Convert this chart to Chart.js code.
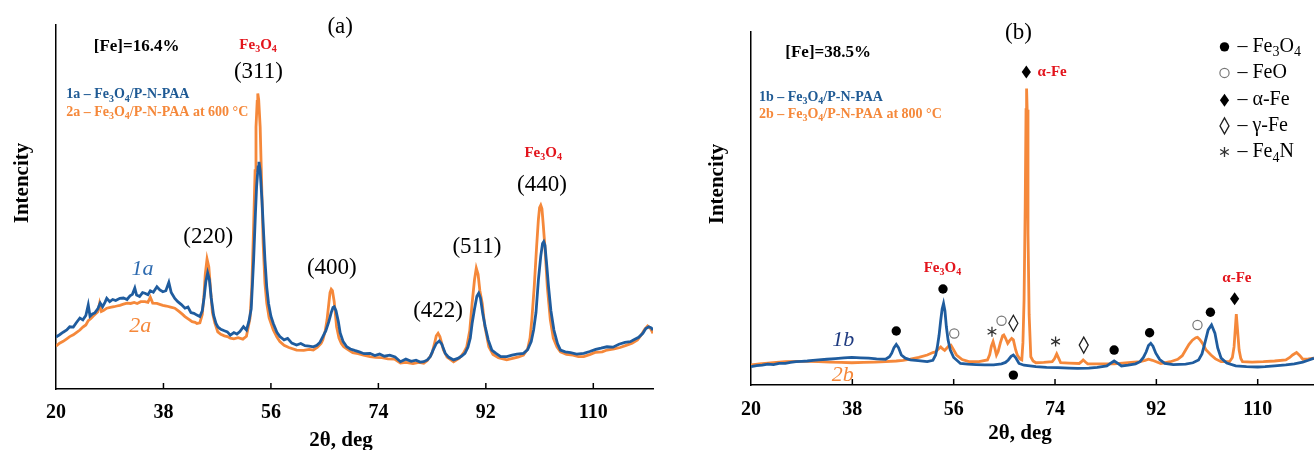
<!DOCTYPE html>
<html>
<head>
<meta charset="utf-8">
<script src="https://cdn.jsdelivr.net/npm/chart.js@4.4.1/dist/chart.umd.min.js"></script>
<style>
  html, body { margin: 0; padding: 0; background: #fff; }
  #wrap { position: relative; width: 1314px; height: 450px; overflow: hidden; }
  canvas { position: absolute; top: 0; }
  #chartA { left: 0; }
  #chartB { left: 660px; }
</style>
</head>
<body>
<div id="wrap">
  <canvas id="chartA" width="660" height="450"></canvas>
  <canvas id="chartB" width="654" height="450"></canvas>
</div>
<script>
// XRD patterns, two panels. x = 2θ (deg), y = intensity in arbitrary units (0–100 of the axis height).

const TICKS = [20, 38, 56, 74, 92, 110];

// (a) [Fe]=16.4%
const pattern1a = [
  [20.0,14.3],[20.6,14.9],[21.2,15.6],[21.8,16.2],[22.3,17.1],[22.9,17.0],[23.4,18.2],[24.0,19.5],[24.5,19.0],
  [25.0,20.2],[25.4,23.1],[25.7,20.0],[26.1,20.6],[26.5,20.9],[27.0,22.0],[27.4,23.6],[27.8,22.6],[28.2,23.8],
  [28.5,24.9],[29.0,24.0],[29.5,24.6],[30.0,24.3],[30.7,24.9],[31.3,25.0],[31.9,24.6],[32.4,25.6],[32.8,26.0],
  [33.2,27.7],[33.5,25.8],[34.0,25.4],[34.5,26.5],[34.9,26.3],[35.4,25.9],[35.8,27.0],[36.3,26.6],[36.9,28.1],
  [37.4,27.2],[37.9,26.7],[38.4,27.0],[38.9,29.3],[39.3,26.5],[39.9,24.9],[40.4,24.0],[41.0,23.2],[41.6,22.2],
  [42.1,22.5],[42.6,21.0],[43.1,20.8],[43.6,20.3],[44.1,19.9],[44.5,21.5],[44.8,25.0],[45.1,29.5],[45.4,31.9],
  [45.7,30.0],[46.0,25.0],[46.4,20.3],[46.8,18.0],[47.1,17.1],[47.6,16.4],[48.2,16.0],[48.7,15.7],[49.2,14.8],
  [49.8,15.5],[50.3,15.1],[50.8,15.8],[51.4,17.1],[51.9,16.2],[52.3,18.5],[52.7,22.0],[53.1,35.4],[53.4,48.0],
  [53.6,55.6],[53.85,61.0],[54.0,62.4],[54.2,60.0],[54.5,51.9],[54.8,42.0],[55.0,35.4],[55.3,28.0],[55.6,23.5],
  [56.0,20.0],[56.4,18.0],[57.0,15.6],[57.5,14.4],[58.2,13.5],[58.8,13.9],[59.5,12.6],[60.3,12.1],[61.0,12.5],
  [61.7,11.9],[62.4,11.8],[63.1,11.6],[63.7,12.0],[64.2,12.8],[64.7,14.4],[65.2,16.0],[65.7,18.5],[66.1,21.0],
  [66.4,22.4],[66.6,22.6],[66.9,21.5],[67.3,18.5],[67.6,15.4],[68.1,13.0],[68.7,11.6],[69.3,11.0],[70.0,10.6],
  [70.8,10.2],[71.6,9.7],[72.6,9.8],[73.4,9.2],[74.2,9.6],[75.0,9.0],[75.9,9.3],[76.8,8.8],[77.7,7.5],
  [78.6,8.2],[79.5,7.6],[80.3,7.9],[81.0,7.4],[81.6,7.5],[82.2,8.0],[82.7,8.9],[83.2,10.8],[83.7,12.5],
  [84.2,13.2],[84.6,12.4],[85.2,9.8],[85.8,8.7],[86.6,8.0],[87.3,8.4],[87.9,9.0],[88.5,9.8],[89.0,11.5],
  [89.4,14.0],[89.7,18.0],[90.1,22.0],[90.5,25.5],[90.8,26.3],[91.1,25.0],[91.5,20.5],[91.9,17.1],[92.4,13.5],
  [93.0,10.7],[93.7,9.8],[94.5,8.9],[95.5,8.9],[96.4,9.3],[97.2,9.6],[98.3,9.8],[99.0,10.8],[99.6,13.0],
  [100.0,16.2],[100.4,21.0],[100.8,29.9],[101.2,36.5],[101.5,40.0],[101.7,40.5],[101.9,39.5],[102.2,34.0],
  [102.5,28.1],[102.9,21.5],[103.4,16.2],[104.0,12.5],[104.5,10.7],[105.3,10.2],[106.2,10.0],[107.2,9.6],
  [108.4,9.8],[109.4,10.3],[110.4,10.9],[111.3,11.2],[112.3,11.6],[113.3,11.5],[114.3,12.3],[115.3,12.8],
  [116.2,13.0],[116.8,13.5],[117.6,14.2],[118.3,15.3],[118.8,16.6],[119.3,17.1],[119.7,16.8],[120.0,16.2]
];

const pattern2a = [
  [20.0,11.8],[20.6,12.6],[21.2,13.1],[21.8,13.8],[22.3,14.4],[22.9,14.9],[23.4,15.5],[24.0,16.2],[24.5,17.0],
  [25.0,17.6],[25.4,18.8],[25.8,19.3],[26.2,20.0],[26.6,20.6],[27.0,21.2],[27.3,23.5],[27.6,21.3],[28.0,21.6],
  [28.5,22.2],[29.1,22.4],[29.7,22.6],[30.2,22.8],[30.7,23.0],[31.3,23.3],[31.9,23.6],[32.5,23.5],[33.1,23.8],
  [33.6,23.5],[34.2,24.0],[34.9,24.0],[35.4,23.8],[35.8,25.2],[36.2,23.6],[36.9,23.5],[37.5,23.2],[37.9,23.0],
  [38.5,22.8],[39.2,22.5],[39.9,22.2],[40.6,21.3],[41.2,20.5],[41.6,19.9],[42.2,19.2],[42.8,18.5],[43.3,18.3],
  [43.6,18.0],[44.1,18.2],[44.5,20.5],[44.8,26.0],[45.0,31.5],[45.3,35.7],[45.6,33.5],[45.9,27.0],[46.2,21.0],
  [46.6,18.2],[47.1,15.7],[47.6,15.0],[48.2,14.6],[48.7,14.4],[49.2,14.0],[49.8,13.8],[50.5,14.1],[51.3,13.7],
  [51.9,14.5],[52.5,19.5],[52.8,28.0],[53.1,44.6],[53.35,60.0],[53.5,72.0],[53.7,79.0],[53.8,81.2],[53.95,79.5],
  [54.2,72.0],[54.45,56.0],[54.7,40.0],[55.0,29.0],[55.3,23.6],[55.7,19.5],[56.4,16.2],[57.0,14.3],[57.5,13.0],
  [58.2,12.0],[59.0,11.4],[60.3,10.7],[61.5,10.6],[62.4,10.9],[63.1,10.7],[63.8,11.5],[64.4,12.5],[64.7,13.5],
  [65.1,16.0],[65.4,19.0],[65.7,23.5],[65.9,26.5],[66.1,27.4],[66.3,27.0],[66.6,24.0],[67.0,17.1],[67.4,14.0],
  [67.8,12.5],[68.2,11.6],[68.9,10.8],[69.7,10.0],[70.6,9.7],[71.5,9.3],[72.6,8.9],[73.6,8.7],[74.6,8.6],
  [75.6,8.3],[76.7,8.2],[77.7,7.1],[78.6,7.3],[79.8,7.0],[80.8,7.3],[81.6,7.1],[82.2,7.8],[82.7,9.0],
  [83.0,9.9],[83.4,12.5],[83.7,14.6],[84.0,15.3],[84.3,14.4],[84.6,12.6],[84.9,10.7],[85.5,8.8],[86.6,7.5],
  [87.6,8.5],[88.3,10.0],[88.8,11.6],[89.3,16.0],[89.7,23.5],[90.1,30.0],[90.4,33.2],[90.7,31.5],[91.0,27.0],
  [91.4,23.5],[91.8,17.5],[92.5,11.6],[93.2,9.5],[94.1,8.6],[95.5,8.0],[96.5,8.4],[97.5,8.8],[98.3,9.3],
  [99.0,11.0],[99.4,14.0],[99.7,19.0],[100.1,28.0],[100.5,39.0],[100.8,46.5],[101.0,49.8],[101.2,50.5],
  [101.4,49.5],[101.6,45.5],[101.9,39.0],[102.3,28.0],[102.8,19.0],[103.3,14.0],[103.9,11.6],[104.5,10.2],
  [105.5,9.5],[106.6,9.3],[107.5,8.9],[108.4,8.9],[109.5,9.5],[110.4,10.1],[111.5,10.2],[112.3,10.7],
  [113.5,11.0],[114.5,11.4],[115.5,12.0],[116.5,12.6],[117.4,13.5],[118.0,14.8],[118.6,16.4],[119.1,17.3],
  [119.6,16.6],[120.0,15.3]
];

// (b) [Fe]=38.5%
const pattern1b = [
  [20.0,5.2],[21.0,5.5],[22.0,5.6],[23.0,5.9],[24.0,5.8],[25.0,6.1],[26.1,6.1],[27.0,6.4],[28.0,6.6],[29.0,6.7],
  [30.0,6.8],[31.0,7.0],[32.0,7.1],[33.5,7.3],[35.0,7.5],[36.5,7.7],[37.9,7.8],[39.5,7.7],[40.9,7.6],[42.3,7.4],
  [43.9,7.3],[44.6,8.0],[45.0,9.0],[45.4,10.6],[45.8,11.5],[46.2,10.6],[46.7,8.5],[47.4,7.6],[48.3,7.1],
  [49.7,6.9],[51.3,6.6],[52.3,7.0],[52.8,8.5],[53.1,10.8],[53.4,14.0],[53.7,18.4],[53.95,21.5],[54.2,23.1],
  [54.45,21.0],[54.7,16.5],[55.0,12.8],[55.4,9.9],[56.0,7.8],[57.2,6.1],[58.5,5.9],[60.0,5.8],[61.5,5.7],
  [63.1,5.7],[64.5,6.0],[65.2,6.4],[65.7,7.1],[66.2,8.1],[66.6,8.5],[67.0,7.8],[67.6,6.1],[68.5,5.6],
  [70.6,5.2],[72.5,5.0],[74.5,4.9],[76.5,4.8],[78.0,4.7],[80.0,4.8],[81.5,5.0],[83.2,5.4],[83.9,6.2],
  [84.5,6.8],[85.1,6.2],[85.8,5.4],[87.0,5.6],[88.3,6.0],[89.1,6.6],[89.7,7.8],[90.2,9.4],[90.6,11.2],
  [91.0,11.8],[91.4,11.0],[91.9,9.0],[92.6,7.2],[93.5,6.1],[95.0,5.8],[97.2,5.9],[98.5,6.3],[99.5,7.1],
  [100.1,8.8],[100.6,11.8],[101.2,15.6],[101.8,17.0],[102.4,14.7],[102.9,10.5],[103.5,7.6],[104.5,6.2],
  [106.1,5.4],[108.0,5.2],[110.0,5.1],[111.3,5.2],[113.0,5.4],[115.0,5.7],[116.5,6.0],[118.0,6.5],
  [119.0,7.0],[120.0,7.6]
];

const pattern2b = [
  [20.0,5.7],[21.5,6.0],[23.0,6.2],[24.5,6.4],[26.1,6.6],[28.0,6.7],[30.0,6.7],[32.0,6.6],[34.0,6.5],[36.0,6.4],
  [37.9,6.3],[40.0,6.4],[42.0,6.5],[43.9,6.6],[45.8,6.8],[47.0,7.0],[48.3,7.3],[49.8,7.8],[51.3,8.5],[52.3,9.2],
  [52.8,9.4],[53.3,10.2],[53.7,10.8],[54.0,10.3],[54.4,9.8],[54.8,10.5],[55.2,11.2],[55.5,11.3],[55.9,10.2],
  [56.5,8.5],[57.5,7.2],[58.7,6.6],[60.5,6.6],[62.0,7.1],[62.4,8.6],[62.7,11.0],[63.0,12.3],[63.3,10.5],
  [63.6,8.5],[63.9,9.5],[64.3,12.0],[64.7,14.0],[64.9,14.2],[65.2,13.3],[65.6,11.8],[65.9,12.5],[66.3,13.2],
  [66.6,12.8],[67.0,10.0],[67.3,8.5],[67.8,7.3],[68.1,7.1],[68.3,12.0],[68.5,24.0],[68.7,50.0],[68.85,78.0],
  [68.95,84.0],[69.05,78.0],[69.2,43.0],[69.4,20.0],[69.7,8.0],[70.1,6.8],[70.6,6.3],[72.0,6.4],[73.5,6.6],
  [73.9,7.4],[74.3,8.8],[74.7,7.4],[75.0,6.3],[76.5,6.2],[78.3,6.1],[78.7,6.6],[79.0,7.1],[79.4,6.5],
  [79.8,6.0],[81.5,6.0],[83.0,6.0],[84.5,6.0],[86.0,6.2],[87.5,6.4],[89.1,6.6],[90.0,7.0],[90.6,7.3],
  [91.3,7.0],[92.8,6.1],[94.5,6.6],[95.8,7.3],[96.6,8.3],[97.2,9.9],[97.8,11.5],[98.4,12.7],[99.0,13.4],
  [99.3,13.5],[99.7,12.9],[100.2,11.8],[100.8,10.0],[101.7,8.5],[102.5,7.4],[103.5,6.6],[105.0,6.6],
  [105.5,7.8],[105.8,10.8],[106.0,15.5],[106.2,20.1],[106.4,16.0],[106.7,9.9],[107.0,7.5],[107.3,6.6],
  [109.0,6.5],[111.0,6.6],[113.0,6.8],[115.0,7.1],[115.7,7.8],[116.2,8.5],[116.9,9.2],[117.5,8.3],
  [118.0,7.3],[119.0,7.4],[120.0,7.6]
];

// peak labels: [text, 2θ, y]
const millerA = [['(220)',45.5,41.8],['(311)',53.9,87.1],['(400)',66.2,33.2],['(422)',84.0,21.5],['(511)',90.5,39.1],['(440)',101.4,56.0]];

// phase marks in (b): [2θ, y]
const magnetiteMarksB = [[45.8,15.3],[54.1,27.2],[66.6,2.8],[84.5,9.9],[90.8,14.8],[101.6,20.6]];
const wustiteMarksB = [[56.1,14.6],[64.5,18.2],[99.3,17.0]];
const alphaFeMarksB = [[68.9,88.7],[105.9,24.4]];
const gammaFeMarksB = [[66.6,17.5],[79.1,11.3]];
const nitrideMarksB = [[62.8,15.1],[74.1,12.3]];

const SERIF = "'Liberation Serif', 'Times New Roman', serif";
const BLUE = '#1f5c9e';
const ORANGE = '#f5883a';
const RED = '#e3141c';

// draws text; "_x" makes x a subscript
function drawRich(ctx, str, x, y, size, font, color, align) {
  const runs = [];
  for (let i = 0; i < str.length; i++) {
    const sub = str[i] === '_';
    const ch = sub ? str[++i] : str[i];
    const last = runs[runs.length - 1];
    if (last && last.sub === sub) last.t += ch; else runs.push({ t: ch, sub });
  }
  const main = `${font} ${size}px ${SERIF}`;
  const small = `${font} ${Math.round(size * 0.68)}px ${SERIF}`;
  let w = 0;
  runs.forEach(r => { ctx.font = r.sub ? small : main; w += ctx.measureText(r.t).width; });
  let cx = align === 'left' ? x : x - w / 2;
  ctx.fillStyle = color;
  ctx.textAlign = 'left';
  ctx.textBaseline = 'middle';
  runs.forEach(r => {
    ctx.font = r.sub ? small : main;
    ctx.fillText(r.t, cx, r.sub ? y + size * 0.3 : y);
    cx += ctx.measureText(r.t).width;
  });
}

function drawMark(ctx, kind, px, py) {
  ctx.beginPath();
  if (kind === 'dot') {
    ctx.arc(px, py, 4.7, 0, Math.PI * 2);
    ctx.fillStyle = '#000'; ctx.fill();
  } else if (kind === 'ring') {
    ctx.arc(px, py, 4.6, 0, Math.PI * 2);
    ctx.strokeStyle = '#777'; ctx.lineWidth = 1.2; ctx.stroke();
  } else if (kind === 'diamond') {
    ctx.moveTo(px, py - 6.5); ctx.lineTo(px + 4.6, py); ctx.lineTo(px, py + 6.5); ctx.lineTo(px - 4.6, py);
    ctx.closePath(); ctx.fillStyle = '#000'; ctx.fill();
  } else if (kind === 'lozenge') {
    ctx.moveTo(px, py - 8); ctx.lineTo(px + 4.5, py); ctx.lineTo(px, py + 8); ctx.lineTo(px - 4.5, py);
    ctx.closePath(); ctx.strokeStyle = '#222'; ctx.lineWidth = 1.3; ctx.stroke();
  } else if (kind === 'star') {
    [90, 30, 150].forEach(a => {
      const dx = 5 * Math.cos(a * Math.PI / 180), dy = 5 * Math.sin(a * Math.PI / 180);
      ctx.moveTo(px - dx, py - dy); ctx.lineTo(px + dx, py + dy);
    });
    ctx.strokeStyle = '#333'; ctx.lineWidth = 1.3; ctx.stroke();
  }
}

// annotations, inward tick marks and axis titles
const notesPlugin = {
  id: 'notes',
  afterDraw(chart, args, opts) {
    const { ctx, scales: { x, y }, chartArea } = chart;
    ctx.save();
    ctx.strokeStyle = '#000'; ctx.lineWidth = 1.5;
    TICKS.slice(1).forEach(v => {
      const px = x.getPixelForValue(v);
      ctx.beginPath(); ctx.moveTo(px, chartArea.bottom); ctx.lineTo(px, chartArea.bottom - 6); ctx.stroke();
    });
    (opts.marks || []).forEach(([kind, pts]) =>
      pts.forEach(p => drawMark(ctx, kind, x.getPixelForValue(p[0]), y.getPixelForValue(p[1]))));
    (opts.texts || []).forEach(t =>
      drawRich(ctx, t.text, x.getPixelForValue(t.at[0]), y.getPixelForValue(t.at[1]),
        t.size, t.font || 'normal', t.color || '#000', t.align || 'center'));
    drawRich(ctx, '2θ, deg', opts.xTitle[0], opts.xTitle[1], 21, 'bold', '#000', 'center');
    ctx.translate(opts.yTitle[0], opts.yTitle[1]);
    ctx.rotate(-Math.PI / 2);
    drawRich(ctx, 'Intencity', 0, 0, 21, 'bold', '#000', 'center');
    ctx.restore();
  }
};

function makePanel(id, series, layout, notes) {
  return new Chart(document.getElementById(id), {
    type: 'line',
    data: {
      datasets: series.map(s => ({
        data: s.pts.map(([x, y]) => ({ x, y })),
        borderColor: s.color, borderWidth: 2.8, pointRadius: 0, tension: 0, fill: false,
      }))
    },
    options: {
      responsive: false, animation: false, events: [],
      layout: { padding: { left: 0, right: layout.right, top: layout.top, bottom: 0 } },
      scales: {
        x: {
          type: 'linear', min: 20, max: 120,
          afterBuildTicks: s => { s.ticks = TICKS.map(v => ({ value: v })); },
          afterFit: s => { s.height = layout.xHeight; },
          grid: { display: false, drawTicks: false },
          border: { display: true, color: '#000', width: 1.5 },
          ticks: { padding: layout.labelPad, color: '#000', autoSkip: false, maxRotation: 0,
                   font: { family: SERIF, size: 20, weight: 'bold' } },
        },
        y: {
          min: 0, max: 100,
          afterFit: s => { s.width = layout.yWidth; },
          grid: { display: false },
          border: { display: true, color: '#000', width: 1.5 },
          ticks: { display: false },
        }
      },
      plugins: { legend: { display: false }, tooltip: { enabled: false }, notes }
    },
    plugins: [notesPlugin]
  });
}

makePanel('chartA',
  [{ pts: pattern1a, color: BLUE }, { pts: pattern2a, color: ORANGE }],
  { right: 7, top: 25, xHeight: 61, yWidth: 56, labelPad: 12 },
  {
    xTitle: [341, 441], yTitle: [23, 183],
    texts: [
      { text: '(a)', at: [67.6, 99.5], size: 23 },
      { text: '[Fe]=16.4%', at: [33.5, 94.2], size: 17, font: 'bold' },
      { text: 'Fe_3O_4', at: [53.85, 94.5], size: 15, font: 'bold', color: RED },
      { text: 'Fe_3O_4', at: [101.6, 64.8], size: 15, font: 'bold', color: RED },
      { text: '1a – Fe_3O_4/P-N-PAA', at: [21.7, 80.8], size: 14, font: 'bold', color: '#1f5a94', align: 'left' },
      { text: '2a – Fe_3O_4/P-N-PAA at 600 °C', at: [21.7, 76.1], size: 14, font: 'bold', color: ORANGE, align: 'left' },
      { text: '1a', at: [34.5, 33.0], size: 22, font: 'italic', color: '#2e6bb0' },
      { text: '2a', at: [34.1, 17.3], size: 22, font: 'italic', color: ORANGE },
      ...millerA.map(([text, x, y]) => ({ text, at: [x, y], size: 23 })),
    ]
  });

makePanel('chartB',
  [{ pts: pattern1b, color: BLUE }, { pts: pattern2b, color: ORANGE }],
  { right: 0, top: 32, xHeight: 65, yWidth: 91, labelPad: 13 },
  {
    xTitle: [360, 434], yTitle: [58, 184],
    marks: [['dot', magnetiteMarksB], ['ring', wustiteMarksB], ['diamond', alphaFeMarksB],
            ['lozenge', gammaFeMarksB], ['star', nitrideMarksB],
            ['dot', [[104.1, 95.8]]], ['ring', [[104.1, 88.4]]], ['diamond', [[104.1, 80.7]]],
            ['lozenge', [[104.1, 73.4]]], ['star', [[104.1, 66.0]]]],
    texts: [
      { text: '(b)', at: [67.5, 99.7], size: 23 },
      { text: '[Fe]=38.5%', at: [33.7, 94.3], size: 17, font: 'bold' },
      { text: '1b – Fe_3O_4/P-N-PAA', at: [21.4, 81.6], size: 14, font: 'bold', color: '#1f5a94', align: 'left' },
      { text: '2b – Fe_3O_4/P-N-PAA at 800 °C', at: [21.4, 76.8], size: 14, font: 'bold', color: ORANGE, align: 'left' },
      { text: 'α-Fe', at: [70.9, 88.7], size: 15, font: 'bold', color: RED, align: 'left' },
      { text: 'α-Fe', at: [106.3, 30.3], size: 15, font: 'bold', color: RED },
      { text: 'Fe_3O_4', at: [54.0, 33.1], size: 15, font: 'bold', color: RED },
      { text: '1b', at: [36.4, 12.7], size: 22, font: 'italic', color: '#1f3b80' },
      { text: '2b', at: [36.3, 2.8], size: 22, font: 'italic', color: ORANGE },
      { text: '– Fe_3O_4', at: [106.4, 95.8], size: 20, align: 'left' },
      { text: '– FeO', at: [106.4, 88.4], size: 20, align: 'left' },
      { text: '– α-Fe', at: [106.4, 80.7], size: 20, align: 'left' },
      { text: '– γ-Fe', at: [106.4, 73.4], size: 20, align: 'left' },
      { text: '– Fe_4N', at: [106.4, 66.0], size: 20, align: 'left' },
    ]
  });
</script>
</body>
</html>
